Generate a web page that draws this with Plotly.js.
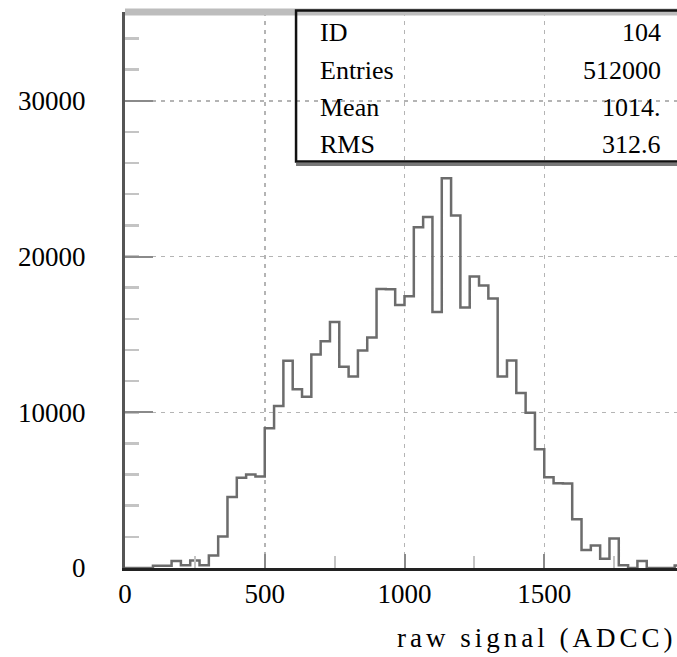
<!DOCTYPE html>
<html>
<head>
<meta charset="utf-8">
<script src="https://cdn.plot.ly/plotly-3.0.1.min.js"></script>
<style>
  html, body { margin: 0; padding: 0; overflow: hidden; background: #fff; }
  #chart { width: 700px; height: 657px; }
  /* the axis caption is set with wide letter spacing */
  .annotation[data-index="8"] text { letter-spacing: 4px; }
</style>
</head>
<body>
<div id="chart"></div>
<script>
// Histogram 104: raw signal, 60 equal bins between 0 and 2000 ADC counts
const binLow = 0;
const binHigh = 2000;
const binCounts = [
  0, 0, 0, 150, 150, 450, 170, 480, 170, 810,
  2030, 4560, 5800, 6000, 5880, 8970, 10400, 13300, 11480, 11000,
  13715, 14560, 15790, 12920, 12300, 13970, 14800, 17920, 17900, 16880,
  17450, 21880, 22530, 16430, 25030, 22640, 16720, 18720, 18140, 17300,
  12300, 13330, 11230, 9970, 7620, 5820, 5440, 5420, 3125, 1150,
  1450, 600, 1890, 170, 0, 450, 0, 0, 0, 160
];

// Axis ticks
const xTickVals = [0, 500, 1000, 1500];
const xTickText = ['0', '500', '1000', '1500'];
const yTickVals = [0, 10000, 20000, 30000];
const yTickText = ['0', '10000', '20000', '30000'];
const yMax = 35700;

// Statistics box
const statLabels = ['ID', 'Entries', 'Mean', 'RMS'];
const statValues = ['104', '512000', '1014.', '312.6'];
const xAxisCaption = 'raw signal (ADCC)';

// Step outline: one point per bin edge, last count repeated to close the final bin
const nBins = binCounts.length;
const binWidth = (binHigh - binLow) / nBins;
const stepX = [];
const stepY = [];
for (let i = 0; i <= nBins; i++) {
  stepX.push(binLow + i * binWidth);
  stepY.push(binCounts[Math.min(i, nBins - 1)]);
}

const serif = '"Liberation Serif", "DejaVu Serif", serif';

const histTrace = {
  type: 'scatter',
  mode: 'lines',
  x: stepX,
  y: stepY,
  line: { shape: 'hv', color: '#6c6c6c', width: 2.5 },
  hoverinfo: 'skip'
};

// Statistics box rows, in paper coordinates
const rowY = [0.964, 0.894, 0.829, 0.761];
const annotations = [];
statLabels.forEach((lab, i) => {
  annotations.push({
    xref: 'paper', yref: 'paper', x: 0.345, y: rowY[i],
    xanchor: 'left', yanchor: 'middle', showarrow: false,
    text: lab, font: { family: serif, size: 26, color: '#000' }
  });
});
statValues.forEach((val, i) => {
  annotations.push({
    xref: 'paper', yref: 'paper', x: 0.9624, y: rowY[i],
    xanchor: 'right', yanchor: 'middle', showarrow: false,
    text: val, font: { family: serif, size: 26, color: '#000' }
  });
});
annotations.push({
  xref: 'paper', yref: 'paper', x: 0.736, y: -0.126,
  xanchor: 'center', yanchor: 'middle', showarrow: false,
  text: xAxisCaption, font: { family: serif, size: 27, color: '#000' }
});

const layout = {
  width: 700,
  height: 657,
  margin: { l: 125, r: 16, t: 12, b: 89 },
  paper_bgcolor: '#fff',
  plot_bgcolor: '#fff',
  showlegend: false,
  font: { family: serif, size: 27, color: '#000' },
  xaxis: {
    range: [binLow, binHigh],
    tickvals: xTickVals,
    ticktext: xTickText,
    ticks: 'inside',
    ticklen: 14,
    tickwidth: 2,
    tickcolor: '#8a8a8a',
    ticklabelstandoff: 0,
    tickfont: { family: serif, size: 27, color: '#000' },
    showgrid: true,
    gridcolor: '#b4b4b4',
    gridwidth: 1.5,
    griddash: '4px,5px',
    minor: { dtick: 250, ticks: 'inside', ticklen: 12, tickwidth: 2, tickcolor: '#c4c4c4', showgrid: false },
    zeroline: false,
    showline: true,
    linecolor: '#222',
    linewidth: 2.5,
    layer: 'above traces',
    fixedrange: true
  },
  yaxis: {
    range: [0, yMax],
    tickvals: yTickVals,
    ticktext: yTickText,
    ticks: 'inside',
    ticklen: 28,
    tickwidth: 2,
    tickcolor: '#8a8a8a',
    ticklabelstandoff: 31,
    tickfont: { family: serif, size: 27, color: '#000' },
    showgrid: true,
    gridcolor: '#b4b4b4',
    gridwidth: 1.5,
    griddash: '4px,5px',
    minor: { dtick: 2000, ticks: 'inside', ticklen: 14, tickwidth: 2.5, tickcolor: '#c4c4c4', showgrid: false },
    zeroline: false,
    showline: true,
    linecolor: '#555',
    linewidth: 3,
    fixedrange: true
  },
  shapes: [
    // light upper frame of the plot area
    { type: 'line', xref: 'paper', yref: 'paper', x0: 0, x1: 1, y0: 1, y1: 1,
      line: { color: '#bdbdbd', width: 7 }, layer: 'above' },
    // statistics box outline (transparent inside)
    { type: 'rect', xref: 'paper', yref: 'paper', x0: 0.306, x1: 1.05, y0: 0.731, y1: 1.0025,
      line: { color: '#111', width: 2.5 }, fillcolor: 'rgba(0,0,0,0)', layer: 'above' },
    // shadow under the statistics box
    { type: 'line', xref: 'paper', yref: 'paper', x0: 0.306, x1: 1.05, y0: 0.7255, y1: 0.7255,
      line: { color: '#777', width: 3 }, layer: 'above' }
  ],
  annotations: annotations
};

Plotly.newPlot('chart', [histTrace], layout, { staticPlot: true, displayModeBar: false });
</script>
</body>
</html>
